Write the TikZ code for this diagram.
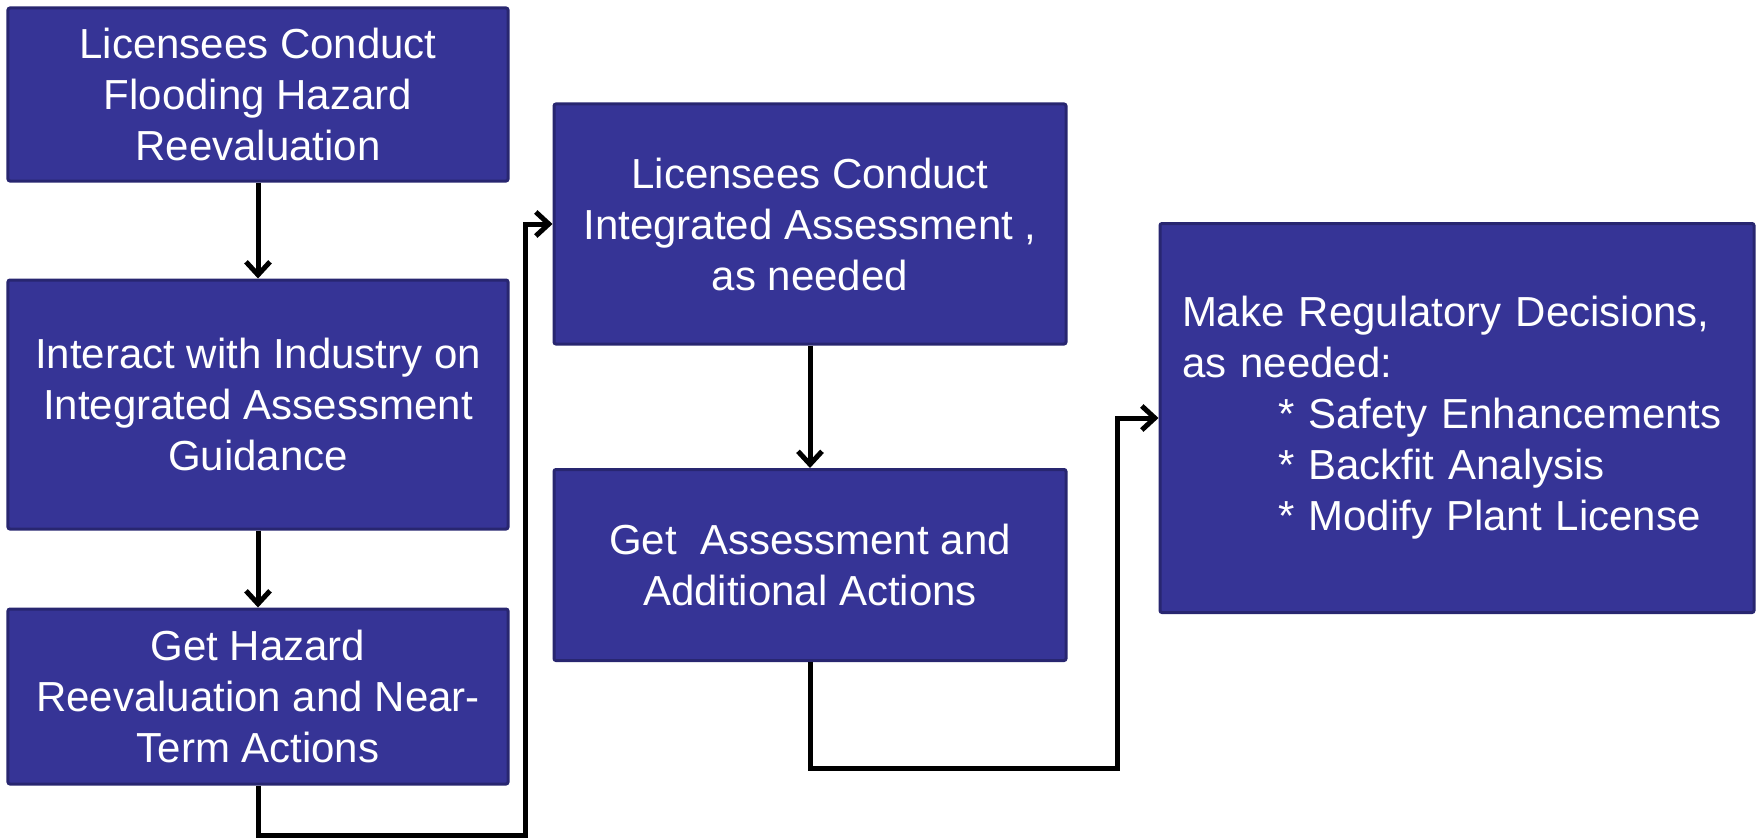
\documentclass[tikz,border=0pt]{standalone}
\usepackage{fontspec}
\setmainfont{Liberation Sans}
\usetikzlibrary{arrows.meta}
\definecolor{boxfill}{RGB}{54,52,150}
\definecolor{boxline}{RGB}{40,38,112}
\begin{document}
\begin{tikzpicture}[x=1bp,y=-1bp,
  stepbox/.style={draw=boxline, line width=3bp, fill=boxfill, rounded corners=2bp,
    text=white, font=\fontsize{42bp}{51bp}\selectfont, align=center, inner sep=0pt},
  flow/.style={line width=5bp, -{Straight Barb[length=13bp,width=24bp]}},
]
\useasboundingbox (0,0) rectangle (1758,839);

% left column
\node[stepbox, minimum width=500bp, minimum height=173bp] (b1) at (258,94.5)
  {Licensees Conduct\\Flooding Hazard\\Reevaluation};
\node[stepbox, minimum width=500bp, minimum height=249bp] (b2) at (258,404.5)
  {Interact with Industry on\\Integrated Assessment\\Guidance};
\node[stepbox, minimum width=500bp, minimum height=175bp] (b3) at (258,696.5)
  {Get Hazard\\Reevaluation and Near-\\Term Actions};

% middle column
\node[stepbox, minimum width=512bp, minimum height=240bp] (b4) at (810,224)
  {Licensees Conduct\\Integrated Assessment ,\\as needed};
\node[stepbox, minimum width=512bp, minimum height=191bp] (b5) at (810,565)
  {Get\ \ Assessment and\\Additional Actions};

% decision box
\node[stepbox, minimum width=594bp, minimum height=389bp, text width=550bp,
      align=left, inner xsep=22bp] (b6) at (1457,418)
  {Make Regulatory Decisions,\\as needed:\\
   \hspace*{96bp}* Safety Enhancements\\
   \hspace*{96bp}* Backfit Analysis\\
   \hspace*{96bp}* Modify Plant License};

% routing points
\coordinate (k1) at (525,835);
\coordinate (k2) at (1117,768);

% connectors
\draw[flow] (b1) -- (b2);
\draw[flow] (b2) -- (b3);
\draw[flow] (b3.south) |- (k1) |- (b4.west);
\draw[flow] (b4) -- (b5);
\draw[flow] (b5.south) |- (k2) |- (b6.west);
\end{tikzpicture}
\end{document}
